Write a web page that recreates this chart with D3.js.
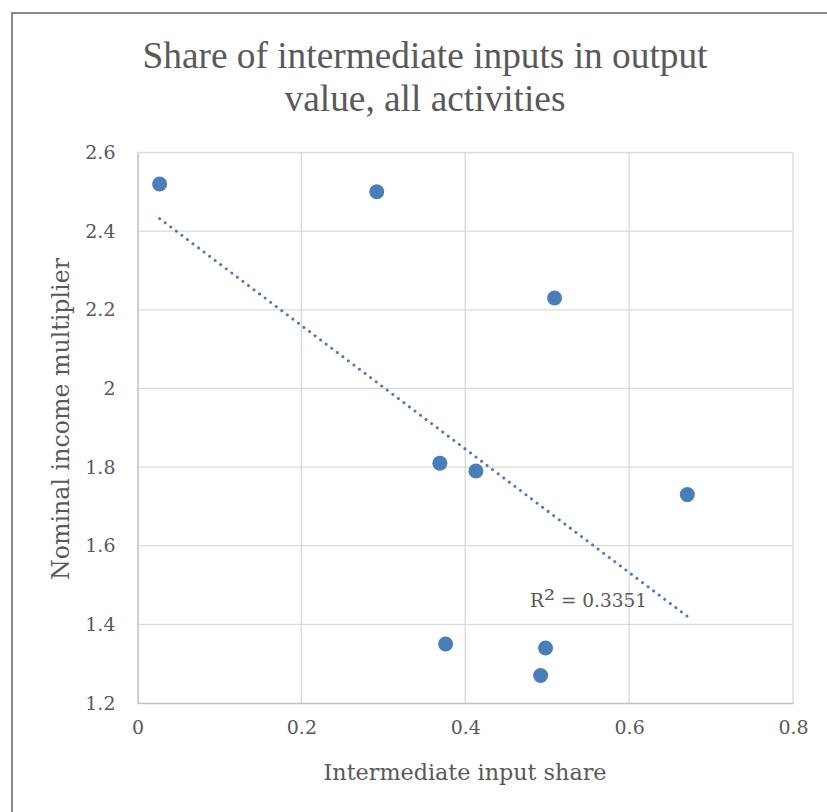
<!DOCTYPE html>
<html><head><meta charset="utf-8">
<script src="https://cdn.jsdelivr.net/npm/d3@7"></script>
<style>body{margin:0;background:#fff}</style>
</head><body>
<script>
const xValues = [0.027, 0.292, 0.509, 0.369, 0.413, 0.671, 0.376, 0.498, 0.492];
const yValues = [2.52, 2.50, 2.23, 1.81, 1.79, 1.73, 1.35, 1.34, 1.27];
const xTicks = [0, 0.2, 0.4, 0.6, 0.8];
const yTicks = [1.2, 1.4, 1.6, 1.8, 2, 2.2, 2.4, 2.6];
const titleLines = ["Share of intermediate inputs in output", "value, all activities"];
const xTitle = "Intermediate input share";
const yTitle = "Nominal income multiplier";
const r2Parts = ["R", "²", " = 0.3351"];

const W = 827, H = 812;
const svg = d3.select("body").append("svg").attr("width", W).attr("height", H);
svg.append("rect").attr("x", 0).attr("y", 0).attr("width", W).attr("height", H).attr("fill", "#fff");
svg.append("path").attr("d", `M12,${H} L12,13 L${W},13`).attr("fill", "none").attr("stroke", "#8a8a8a").attr("stroke-width", 2);

const L = 137.5, R = 793, T = 152.5, B = 703;
const x = d3.scaleLinear().domain([0, 0.8]).range([L, R]);
const y = d3.scaleLinear().domain([1.2, 2.6]).range([B, T]);
const serif = "'Liberation Serif','Times New Roman',serif";
const axFont = "'DejaVu Serif',Cambria,serif";
const textCol = "#595959";

function fitWidth(sel, target) {
  const w = sel.node().getComputedTextLength();
  const fs = parseFloat(sel.attr("font-size"));
  sel.attr("font-size", (fs * target / w).toFixed(2));
}

// gridlines
svg.append("g").selectAll("line").data(xTicks.slice(1)).join("line")
  .attr("x1", d => x(d)).attr("x2", d => x(d)).attr("y1", T).attr("y2", B)
  .attr("stroke", "#d9d9d9").attr("stroke-width", 1.3);
svg.append("g").selectAll("line").data(yTicks.slice(1)).join("line")
  .attr("x1", L).attr("x2", R).attr("y1", d => y(d)).attr("y2", d => y(d))
  .attr("stroke", "#d9d9d9").attr("stroke-width", 1.3);
// axes
const xAxis = d3.axisBottom(x).tickValues(xTicks).tickSize(0).tickPadding(18).tickFormat(d3.format("~g"));
const yAxis = d3.axisLeft(y).tickValues(yTicks).tickSize(0).tickPadding(22).tickFormat(d3.format("~g"));
const gx = svg.append("g").attr("transform", `translate(0,${B})`).call(xAxis);
const gy = svg.append("g").attr("transform", `translate(${L},0)`).call(yAxis);
[gx, gy].forEach(g => {
  g.select(".domain").attr("stroke", "#bfbfbf").attr("stroke-width", 1.5);
  g.selectAll("text").attr("font-family", axFont).attr("font-size", 19).attr("fill", textCol);
});

// trendline
const n = xValues.length;
const mx = d3.mean(xValues), my = d3.mean(yValues);
let sxy = 0, sxx = 0;
for (let i = 0; i < n; i++) { sxy += (xValues[i]-mx)*(yValues[i]-my); sxx += (xValues[i]-mx)**2; }
const slope = sxy / sxx, icpt = my - slope * mx;
const x0 = d3.min(xValues), x1 = d3.max(xValues);
svg.append("line").attr("x1", x(x0)).attr("y1", y(icpt + slope*x0)).attr("x2", x(x1)).attr("y2", y(icpt + slope*x1))
  .attr("stroke", "#4a7ebb").attr("stroke-width", 3).attr("stroke-dasharray", "0.1 6.85").attr("stroke-linecap", "round");

// points
svg.append("g").selectAll("circle").data(xValues.map((v, i) => [v, yValues[i]])).join("circle")
  .attr("cx", d => x(d[0])).attr("cy", d => y(d[1])).attr("r", 7.5).attr("fill", "#4a7ebb");

// R2 label
const r2 = svg.append("text").attr("x", 530).attr("y", 607).attr("font-family", axFont).attr("font-size", 18.5).attr("fill", textCol);
r2.selectAll("tspan").data(r2Parts).join("tspan")
  .attr("font-size", (d, i) => i === 1 ? "1.5em" : null)
  .attr("dy", (d, i) => i === 1 ? 2 : (i === 2 ? -2 : null))
  .text(d => d);

// title
const tt = svg.append("g").selectAll("text").data(titleLines).join("text")
  .attr("x", 425).attr("y", (d, i) => 68 + i * 43).attr("text-anchor", "middle")
  .attr("font-family", serif).attr("font-size", 37).attr("fill", textCol).text(d => d);
fitWidth(d3.select(tt.nodes()[0]), 565);
d3.select(tt.nodes()[1]).attr("font-size", d3.select(tt.nodes()[0]).attr("font-size"));

const xt = svg.append("text").attr("x", 465).attr("y", 780).attr("text-anchor", "middle")
  .attr("font-family", axFont).attr("font-size", 21).attr("fill", textCol).text(xTitle);
fitWidth(xt, 283);
const yt = svg.append("text").attr("transform", `translate(69,419) rotate(-90)`).attr("text-anchor", "middle")
  .attr("font-family", axFont).attr("font-size", 21).attr("fill", textCol).text(yTitle);
fitWidth(yt, 322);
</script>
</body></html>
